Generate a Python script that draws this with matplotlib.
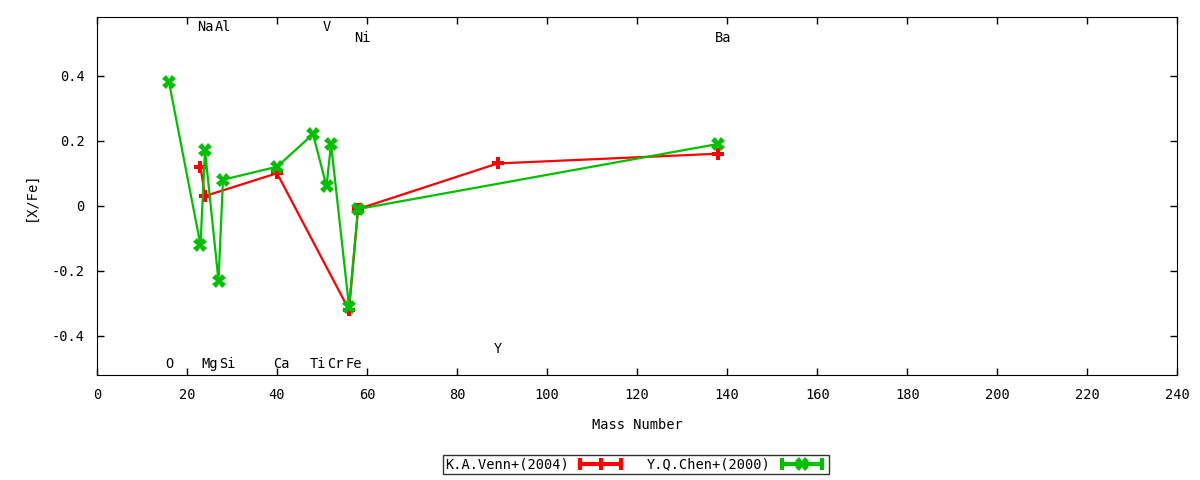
import matplotlib.pyplot as plt
from matplotlib.lines import Line2D
from matplotlib.legend_handler import HandlerLine2D, HandlerTuple

plt.rcParams['font.family'] = ['DejaVu Sans Mono']
plt.rcParams['font.size'] = 9.8

# K.A.Venn+(2004)
venn_mass = [23, 24, 40, 56, 58, 89, 138]
venn_xfe = [0.12, 0.03, 0.10, -0.32, -0.01, 0.13, 0.16]

# Y.Q.Chen+(2000)
chen_mass = [16, 23, 24, 27, 28, 40, 48, 51, 52, 56, 58, 138]
chen_xfe = [0.38, -0.12, 0.17, -0.23, 0.08, 0.12, 0.22, 0.06, 0.19, -0.31, -0.01, 0.19]

# element labels: name, mass, label height
elements = ['O', 'Na', 'Mg', 'Al', 'Si', 'Ca', 'Ti', 'V', 'Cr', 'Fe', 'Ni', 'Y', 'Ba']
elem_mass = [16, 23, 24, 27, 28, 40, 48, 51, 52, 56, 58, 89, 138]
elem_y = [-0.485, 0.55, -0.485, 0.55, -0.485, -0.485, -0.485, 0.55, -0.485, -0.485, 0.515, -0.44, 0.515]

red = '#ff0000'
green = '#00c000'

fig = plt.figure(figsize=(12, 4.8), dpi=100)
ax = fig.add_axes([0.0808, 0.2187, 0.9003, 0.7459])

ax.plot(venn_mass, venn_xfe, color=red, lw=1.6, marker='P', ms=8.5, mew=0)
ax.plot(chen_mass, chen_xfe, color=green, lw=1.6, marker='X', ms=9.5, mew=0)

for name, m, y in zip(elements, elem_mass, elem_y):
    ax.annotate(name, (m, y), xytext=(-2.5, 0), textcoords='offset points',
                ha='left', va='center')

ax.set_xlim(0, 240)
ax.set_ylim(-0.52, 0.58)
ax.set_xticks(range(0, 241, 20))
ax.set_yticks([-0.4, -0.2, 0, 0.2, 0.4])
ax.set_yticklabels(['-0.4', '-0.2', '0', '0.2', '0.4'])
ax.tick_params(direction='in', top=True, right=True, length=5, width=1, pad=9)
ax.set_xlabel('Mass Number', labelpad=12)
ax.set_ylabel('[X/Fe]', labelpad=10)

# gnuplot-style legend samples: line with end caps and a point in the middle
def sample(color, marker, ms):
    caps = Line2D([], [], color=color, lw=3, marker='|', ms=9, mew=3)
    point = Line2D([], [], color=color, lw=0, marker=marker, ms=ms, mew=0)
    return (caps, point), {caps: HandlerLine2D(numpoints=2), point: HandlerLine2D(numpoints=1)}

h1, m1 = sample(red, 'P', 8.5)
h2, m2 = sample(green, 'X', 9.5)
hmap = {tuple: HandlerTuple(ndivide=1)}
hmap.update(m1)
hmap.update(m2)
leg = fig.legend([h1, h2], ['K.A.Venn+(2004)', 'Y.Q.Chen+(2000)'], handler_map=hmap,
                 loc='center', bbox_to_anchor=(0.53, 0.032), ncol=2, markerfirst=False,
                 frameon=True, fancybox=False, edgecolor='black', borderpad=0.2,
                 handlelength=3.6, columnspacing=1.6, handletextpad=0.5)
leg.get_frame().set_linewidth(1)

fig.savefig('out.png', dpi=100)
